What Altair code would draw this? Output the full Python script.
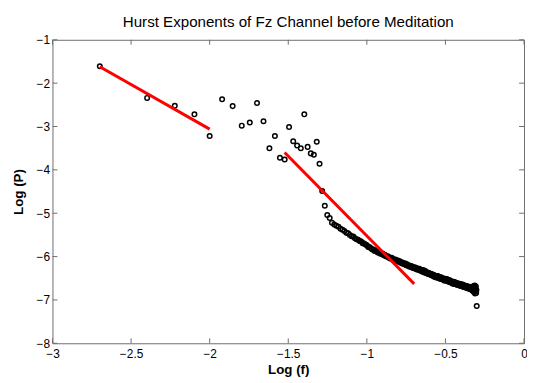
import numpy as np
import pandas as pd
import altair as alt

TITLE = "Hurst Exponents of Fz Channel before Meditation"
X_TITLE = "Log (f)"
Y_TITLE = "Log (P)"
X_TICKS = [-3, -2.5, -2, -1.5, -1, -0.5, 0]
Y_TICKS = [-1, -2, -3, -4, -5, -6, -7, -8]

# frequency bins are multiples of this step; x = log10(f)
FREQ_STEP = 0.002

# log power, one value per frequency bin
LOG_P_LOW = [
    -1.61, -2.34, -2.52, -2.72, -3.22, -2.37, -2.53, -2.98, -2.91, -2.46,
    -2.88, -3.50, -3.22, -3.72, -3.76, -3.01, -3.34, -3.44, -3.50, -2.72,
    -3.47, -3.62, -3.65, -3.35, -3.86, -4.49, -4.83, -5.04, -5.11,
]
LOG_P_TAIL = [
    -5.22, -5.26, -5.29, -5.31, -5.36, -5.38, -5.41, -5.45, -5.46, -5.50,
    -5.53, -5.54, -5.58, -5.60, -5.61, -5.64, -5.65, -5.69, -5.70, -5.72,
    -5.74, -5.78, -5.78, -5.81, -5.83, -5.84, -5.87, -5.86, -5.89, -5.91,
    -5.90, -5.93, -5.94, -5.93, -5.97, -5.96, -5.99, -6.00, -5.99, -6.03,
    -6.02, -6.05, -6.03, -6.07, -6.06, -6.09, -6.07, -6.10, -6.11, -6.09,
    -6.12, -6.11, -6.14, -6.13, -6.16, -6.14, -6.17, -6.18, -6.16, -6.20,
    -6.18, -6.21, -6.20, -6.23, -6.21, -6.24, -6.22, -6.25, -6.26, -6.24,
    -6.27, -6.25, -6.28, -6.26, -6.30, -6.28, -6.29, -6.31, -6.28, -6.32,
    -6.31, -6.33, -6.32, -6.35, -6.31, -6.34, -6.37, -6.33, -6.36, -6.38,
    -6.36, -6.39, -6.37, -6.40, -6.38, -6.41, -6.39, -6.42, -6.40, -6.43,
    -6.41, -6.44, -6.42, -6.45, -6.43, -6.47, -6.44, -6.46, -6.48, -6.45,
    -6.47, -6.45, -6.49, -6.46, -6.50, -6.48, -6.51, -6.47, -6.50, -6.52,
    -6.49, -6.52, -6.50, -6.53, -6.51, -6.55, -6.52, -6.54, -6.51, -6.56,
    -6.54, -6.52, -6.56, -6.53, -6.57, -6.55, -6.58, -6.54, -6.57, -6.59,
    -6.56, -6.59, -6.57, -6.60, -6.58, -6.62, -6.59, -6.61, -6.58, -6.63,
    -6.61, -6.59, -6.63, -6.60, -6.64, -6.62, -6.61, -6.65, -6.62, -6.64,
    -6.63, -6.66, -6.62, -6.65, -6.63, -6.67, -6.64, -6.66, -6.68, -6.65,
    -6.66, -6.64, -6.68, -6.65, -6.69, -6.67, -6.70, -6.66, -6.69, -6.68,
    -6.67, -6.71, -6.68, -6.70, -6.72, -6.68, -6.71, -6.69, -6.73, -6.70,
    -6.71, -6.69, -6.73, -6.70, -6.74, -6.71, -6.72, -6.75, -6.70, -6.73,
    -6.72, -6.76, -6.71, -6.74, -6.78, -6.70, -6.77, -6.73, -6.80, -6.68,
    -6.82, -6.71, -6.78, -6.67, -6.85, -6.74, -6.80, -6.69, -6.84, -6.77,
]
LOG_P_LAST = [-7.14]
LOG_P = LOG_P_LOW + LOG_P_TAIL + LOG_P_LAST

# fitted lines (endpoints)
FIT_GROUP = ["low", "low", "high", "high"]
FIT_X = [-2.699, -2.0, -1.523, -0.699]
FIT_Y = [-1.62, -3.06, -3.60, -6.63]

W, H = 477, 307
GRAY = "#6e6e6e"
FONT = "Liberation Sans"
MINUS = "\u2212"

bins = np.arange(1, len(LOG_P) + 1)
df = pd.DataFrame({"logf": np.log10(FREQ_STEP * bins), "logp": LOG_P})
fit = pd.DataFrame({"g": FIT_GROUP, "logf": FIT_X, "logp": FIT_Y})
xt = pd.DataFrame({"logf": X_TICKS})
yt = pd.DataFrame({"logp": Y_TICKS})

xscale = alt.Scale(domain=[-3, 0], nice=False, zero=False)
yscale = alt.Scale(domain=[-8, -1], nice=False, zero=False)

label_expr = "replace(datum.value + '', '-', '" + MINUS + "')"

x_axis = alt.Axis(
    values=X_TICKS, title=X_TITLE, ticks=False, domain=False, grid=False,
    labelExpr=label_expr, labelFlush=False, labelOverlap=False,
    labelFont=FONT, labelFontSize=12, labelColor="black", labelPadding=5,
    titleFont=FONT, titleFontSize=13.5, titleFontWeight="bold",
    titleColor="black", titlePadding=4,
)
y_axis = alt.Axis(
    values=Y_TICKS, title=Y_TITLE, ticks=False, domain=False, grid=False,
    labelExpr=label_expr, labelFlush=False, labelOverlap=False,
    labelFont=FONT, labelFontSize=12, labelColor="black", labelPadding=3,
    titleFont=FONT, titleFontSize=13.5, titleFontWeight="bold",
    titleColor="black", titlePadding=11,
)

X = alt.X("logf:Q", scale=xscale, axis=x_axis)
Y = alt.Y("logp:Q", scale=yscale, axis=y_axis)

points = alt.Chart(df).mark_point(
    shape="circle", filled=False, color="black", size=21,
    strokeWidth=1.5, opacity=1,
).encode(x=X, y=Y)

lines = alt.Chart(fit).mark_line(color="#ff0000", strokeWidth=3).encode(
    x=X, y=Y, detail="g:N"
)

tick_b = alt.Chart(xt).mark_rule(color=GRAY, strokeWidth=1).encode(
    x=X, y=alt.value(H), y2=alt.value(H - 5))
tick_t = alt.Chart(xt).mark_rule(color=GRAY, strokeWidth=1).encode(
    x=X, y=alt.value(0), y2=alt.value(5))
tick_l = alt.Chart(yt).mark_rule(color=GRAY, strokeWidth=1).encode(
    y=Y, x=alt.value(0), x2=alt.value(5))
tick_r = alt.Chart(yt).mark_rule(color=GRAY, strokeWidth=1).encode(
    y=Y, x=alt.value(W), x2=alt.value(W - 5))

chart = alt.layer(tick_b, tick_t, tick_l, tick_r, points, lines).properties(
    width=W, height=H,
    title=alt.TitleParams(
        TITLE, font=FONT, fontSize=15.3, fontWeight="normal", color="black",
        anchor="middle", frame="group", offset=4,
    ),
    padding={"left": 45, "top": 30, "right": 3, "bottom": 36},
    autosize=alt.AutoSizeParams(type="none"),
    background="white",
).configure_view(stroke=GRAY, strokeWidth=1)

chart.save("out.html", embed_options={"renderer": "svg", "actions": False})
